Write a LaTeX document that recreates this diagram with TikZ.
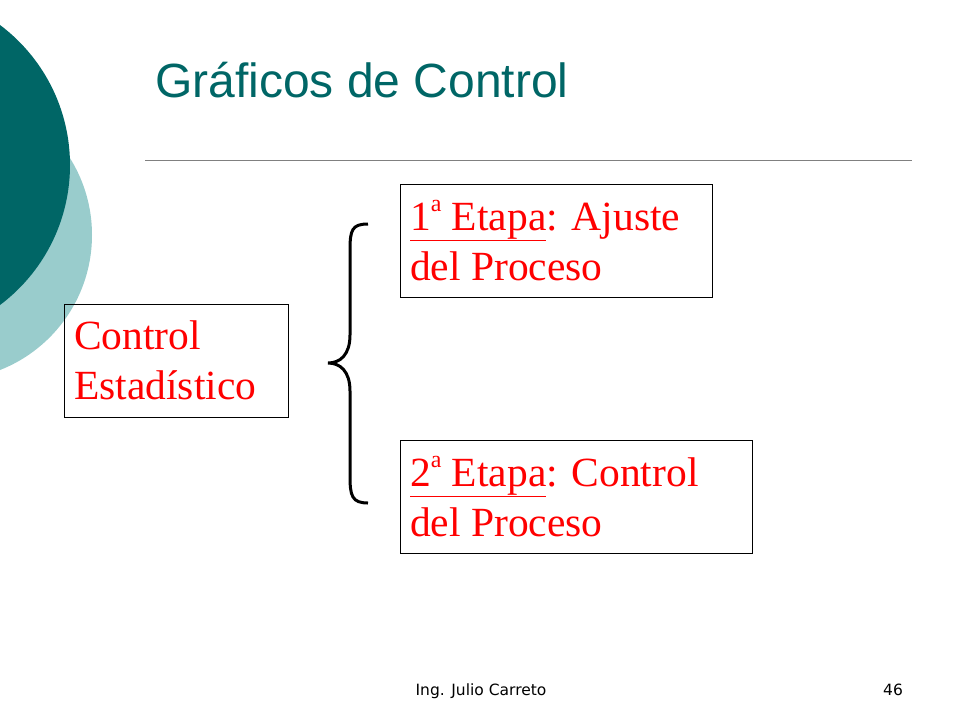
\documentclass[tikz,border=0pt]{standalone}
\usepackage{fontspec}
\setmainfont{Liberation Serif}
\newfontfamily\arialf{Liberation Sans}
\newfontfamily\footf{DejaVu Sans}
\definecolor{tealdark}{RGB}{0,102,102}
\definecolor{teallight}{RGB}{153,204,204}
\definecolor{redtext}{RGB}{255,0,0}
\newcommand{\ulx}[1]{\underline{\smash{#1}}}
\newcommand{\supa}{\raisebox{0.45em}{\fontsize{24}{24}\selectfont a}}
\begin{document}
\begin{tikzpicture}[x=1pt,y=-1pt,
  boxtext/.style={anchor=north west,align=left,text=redtext,font=\fontsize{41.5}{50}\selectfont,inner sep=0pt}]
\useasboundingbox (0,0) rectangle (960,720);
\begin{scope}
\clip (0,0) rectangle (960,720);
\fill[teallight] (-53,235) circle (145);
\fill[tealdark] (-105,165) circle (175);
\end{scope}
\node[anchor=base west,text=tealdark,font=\arialf\fontsize{48}{50}\selectfont,inner sep=0pt] (title) at (155,97) {Gráficos de Control};
\coordinate (l1) at (145,160); \coordinate (l2) at (912,160);
\draw[gray,line width=0.8pt] (l1) -- (l2);
\draw[line width=0.8pt] (64,304) rectangle (288,417);
\node[boxtext] (c) at (74,320) {Control\\Estadístico};
\draw[line width=0.8pt] (400,184) rectangle (712,297);
\node[boxtext] (e1) at (410,200) {\underline{1\supa{} Etapa}: Ajuste\\del Proceso};
\draw[line width=0.8pt] (400,440) rectangle (752,553);
\node[boxtext] (e2) at (410,456) {\underline{2\supa{} Etapa}: Control\\del Proceso};
\coordinate (bt) at (368,224); \coordinate (bb) at (368,503); \coordinate (bm) at (328,363);
\draw[line width=3pt] (bt) .. controls (352,224) and (350,230) .. (350,250) -- (350,335) .. controls (350,355) and (340,363) .. (bm)
  .. controls (340,363) and (350,371) .. (350,391) -- (350,476) .. controls (350,496) and (352,503) .. (bb);
\node[anchor=base,font=\footf\fontsize{15.5}{16}\selectfont,inner sep=0pt] (f) at (481,695) {Ing. Julio Carreto};
\node[anchor=base,font=\footf\fontsize{15.5}{16}\selectfont,inner sep=0pt] (n) at (893,695) {46};
\end{tikzpicture}
\end{document}
